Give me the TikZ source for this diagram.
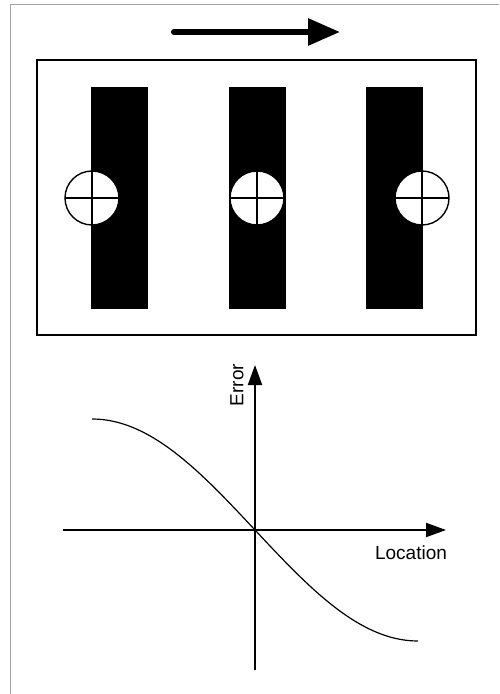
\documentclass[tikz,border=0pt]{standalone}
\usepackage{fontspec}
\setmainfont{Liberation Sans}
\usetikzlibrary{arrows.meta}

\tikzset{
    bar/.style={fill=black},
    target/.style={draw, fill=white, line width=0.7pt},
    axis/.style={line width=1pt, -{Triangle[length=10pt, width=7pt]}},
}

\begin{document}
\begin{tikzpicture}[x=0.5pt, y=-0.5pt, font=\fontsize{9.5}{11}\selectfont]
    \useasboundingbox (0,0) rectangle (499,694);
    % frame and direction of travel
    \draw[gray!70, line width=0.5pt] (10,694) -- (10,5) -- (499,5);
    \draw[line width=3pt, line cap=round, -{Triangle[length=16pt, width=13pt]}] (174,32) -- (340,32);
    % plate with the three marks
    \draw[line width=0.8pt] (37,60) rectangle (476,335);
    \foreach \x in {91,229,366} \fill[bar] (\x,87) rectangle (\x+57,309);
    \foreach \x in {92,257,422} {
        \draw[target] (\x,198) circle (27);
        \draw[line width=0.7pt] (\x-27,198) -- (\x+27,198) (\x,171) -- (\x,225);
    }
    % error against location
    \coordinate (o) at (255,530);
    \draw[axis] (255,670) -- (255,365);
    \draw[axis] (63,530) -- (446,530);
    \draw[line width=0.6pt, domain=-1:1, samples=60, smooth] plot ({255+163*\x}, {530+111*sin(90*\x)});
    \node[rotate=90] (err) at (237,385) {Error};
    \node (loc) at (411,553) {Location};
\end{tikzpicture}
\end{document}
